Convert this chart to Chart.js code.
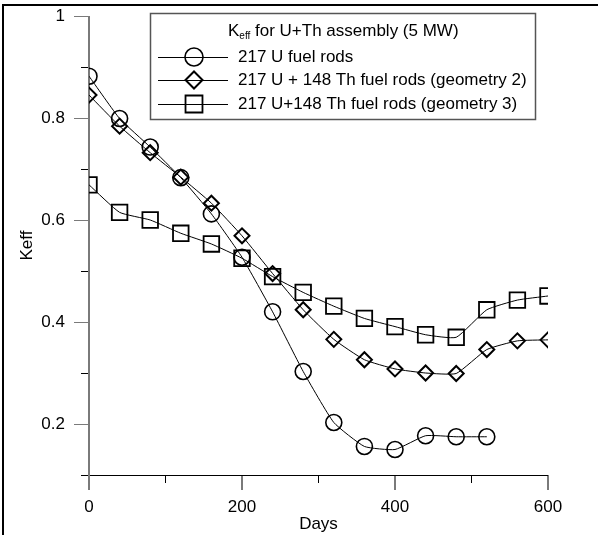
<!DOCTYPE html>
<html>
<head>
<meta charset="utf-8">
<script src="https://cdn.jsdelivr.net/npm/chart.js@4.4.1/dist/chart.umd.min.js"></script>
<style>
  html, body { margin: 0; padding: 0; background: #fff; }
  #wrap { position: relative; width: 599px; height: 535px; }
  #frame { position: absolute; left: 2px; top: 4px; right: 1px; bottom: 0;
           border-top: 2px solid #000; border-left: 2px solid #000; pointer-events: none; }
</style>
</head>
<body>
<div id="wrap">
  <canvas id="chart1" width="599" height="535"></canvas>
  <div id="frame"></div>
</div>
<script>
// burnup days
const days = [0, 40, 80, 120, 160, 200, 240, 280, 320, 360, 400, 440, 480, 520, 560, 600];

// Keff values
const uRods = [0.882, 0.799, 0.743, 0.683, 0.612, 0.527, 0.420, 0.303, 0.203, 0.156, 0.150, 0.177, 0.175, 0.175];
const uThGeom2 = [0.845, 0.784, 0.732, 0.684, 0.633, 0.569, 0.495, 0.424, 0.366, 0.326, 0.308, 0.300, 0.299, 0.346, 0.363, 0.365];
const uThGeom3 = [0.669, 0.615, 0.600, 0.574, 0.553, 0.525, 0.489, 0.458, 0.431, 0.407, 0.391, 0.375, 0.370, 0.424, 0.443, 0.451];

const seriesNames = ['217 U fuel rods', '217 U + 148 Th fuel rods (geometry 2)', '217 U+148 Th fuel rods (geometry 3)'];
const legendTitle = ['K', 'eff', ' for U+Th assembly (5 MW)'];

const FONT = '"Liberation Sans", Arial, sans-serif';
const FS = 17;
const GREY = '#7a7a7a';

function toPoints(vals) {
  return vals.map((v, i) => ({ x: days[i], y: v }));
}

function series(label, vals, style, radius, bw) {
  return {
    label: label,
    data: toPoints(vals),
    borderColor: '#000',
    borderWidth: 1,
    tension: 0.15,
    pointStyle: style,
    pointRadius: radius,
    pointHoverRadius: radius,
    pointBorderWidth: bw,
    pointBorderColor: '#000',
    pointBackgroundColor: 'rgba(0,0,0,0)'
  };
}

// axis lines and tick marks, major ticks longer and grey
const axesPlugin = {
  id: 'axes',
  beforeDatasetsDraw(chart) {
    const { ctx, scales: { x, y } } = chart;
    const x0 = x.getPixelForValue(0);
    const yb = y.getPixelForValue(y.min);
    ctx.save();
    x.ticks.forEach(t => {
      const px = x.getPixelForValue(t.value);
      const major = t.value % 200 === 0;
      ctx.strokeStyle = major ? GREY : '#000';
      ctx.lineWidth = major ? 2 : 1;
      ctx.beginPath();
      ctx.moveTo(px, yb);
      ctx.lineTo(px, yb + (major ? 15 : 8));
      ctx.stroke();
    });
    y.ticks.forEach(t => {
      const py = Math.round(y.getPixelForValue(t.value)) + 0.5;
      const major = Math.round(t.value * 10) % 2 === 0;
      ctx.strokeStyle = major ? GREY : '#000';
      ctx.lineWidth = 1;
      ctx.beginPath();
      ctx.moveTo(x0, py);
      ctx.lineTo(x0 - (major ? 15 : 8), py);
      ctx.stroke();
    });
    // x axis line
    ctx.strokeStyle = '#000';
    ctx.lineWidth = 1;
    ctx.beginPath();
    ctx.moveTo(x0 - 8, Math.round(yb) + 0.5);
    ctx.lineTo(x.right, Math.round(yb) + 0.5);
    ctx.stroke();
    // y axis line
    ctx.strokeStyle = GREY;
    ctx.lineWidth = 2;
    ctx.beginPath();
    ctx.moveTo(x0, y.getPixelForValue(y.max));
    ctx.lineTo(x0, yb + 15);
    ctx.stroke();
    ctx.restore();
  }
};

// boxed legend with line-through-marker samples
const legendPlugin = {
  id: 'boxLegend',
  afterDraw(chart) {
    const ctx = chart.ctx;
    ctx.save();
    ctx.strokeStyle = '#555';
    ctx.lineWidth = 1.5;
    ctx.strokeRect(150.5, 13.5, 385, 106);

    // title with subscript
    ctx.fillStyle = '#000';
    ctx.textBaseline = 'middle';
    ctx.textAlign = 'left';
    let tx = 228;
    const ty = 31;
    ctx.font = FS + 'px ' + FONT;
    ctx.fillText(legendTitle[0], tx, ty);
    tx += ctx.measureText(legendTitle[0]).width;
    ctx.font = '10px ' + FONT;
    ctx.fillText(legendTitle[1], tx, ty + 5);
    tx += ctx.measureText(legendTitle[1]).width;
    ctx.font = FS + 'px ' + FONT;
    ctx.fillText(legendTitle[2], tx, ty);

    const rows = [57, 80, 104];
    chart.data.datasets.forEach((ds, i) => {
      const ry = rows[i];
      ctx.strokeStyle = '#000';
      ctx.lineWidth = 1;
      ctx.beginPath();
      ctx.moveTo(158, ry + 0.5);
      ctx.lineTo(228, ry + 0.5);
      ctx.stroke();
      ctx.fillStyle = 'rgba(0,0,0,0)';
      ctx.lineWidth = ds.pointBorderWidth;
      Chart.helpers.drawPoint(ctx, {
        pointStyle: ds.pointStyle,
        radius: ds.pointRadius + 1,
        rotation: 0,
        borderWidth: ds.pointBorderWidth
      }, 194, ry);
      ctx.fillStyle = '#000';
      ctx.font = FS + 'px ' + FONT;
      ctx.fillText(ds.label, 238, ry);
    });
    ctx.restore();
  }
};

const ctx = document.getElementById('chart1');

new Chart(ctx, {
  type: 'line',
  data: {
    datasets: [
      series(seriesNames[0], uRods, 'circle', 8, 1.6),
      series(seriesNames[1], uThGeom2, 'rectRot', 7.5, 2),
      series(seriesNames[2], uThGeom3, 'rect', 11, 1.8)
    ]
  },
  options: {
    responsive: false,
    animation: false,
    events: [],
    layout: { padding: { top: 16, right: 51, left: 0, bottom: 0 } },
    plugins: { legend: { display: false }, tooltip: { enabled: false } },
    scales: {
      x: {
        type: 'linear',
        min: 0,
        max: 600,
        afterFit(scale) {
          scale.height = 60;
          scale.paddingLeft = 0;
          scale.paddingRight = 0;
        },
        border: { display: false },
        grid: { display: true, drawOnChartArea: false, drawTicks: false, color: 'rgba(0,0,0,0)' },
        ticks: {
          stepSize: 100,
          padding: 22,
          color: '#000',
          font: { size: FS, family: FONT },
          maxRotation: 0,
          autoSkip: false,
          callback: v => (v % 200 === 0 ? String(v) : '')
        },
        title: { display: true, text: 'Days', color: '#000', font: { size: FS, family: FONT }, padding: { top: 0, bottom: 0 } }
      },
      y: {
        min: 0.1,
        max: 1,
        afterFit(scale) {
          scale.width = 89;
          scale.paddingTop = 0;
          scale.paddingBottom = 0;
        },
        border: { display: false },
        grid: { display: true, drawOnChartArea: false, drawTicks: false, color: 'rgba(0,0,0,0)' },
        ticks: {
          stepSize: 0.1,
          padding: 24,
          color: '#000',
          font: { size: FS, family: FONT },
          autoSkip: false,
          callback: v => (Math.round(v * 10) % 2 === 0 ? String(+v.toFixed(1)) : '')
        },
        title: { display: true, text: 'Keff', color: '#000', font: { size: FS, family: FONT }, padding: { top: 17, bottom: 0 } }
      }
    }
  },
  plugins: [axesPlugin, legendPlugin]
});
</script>
</body>
</html>
